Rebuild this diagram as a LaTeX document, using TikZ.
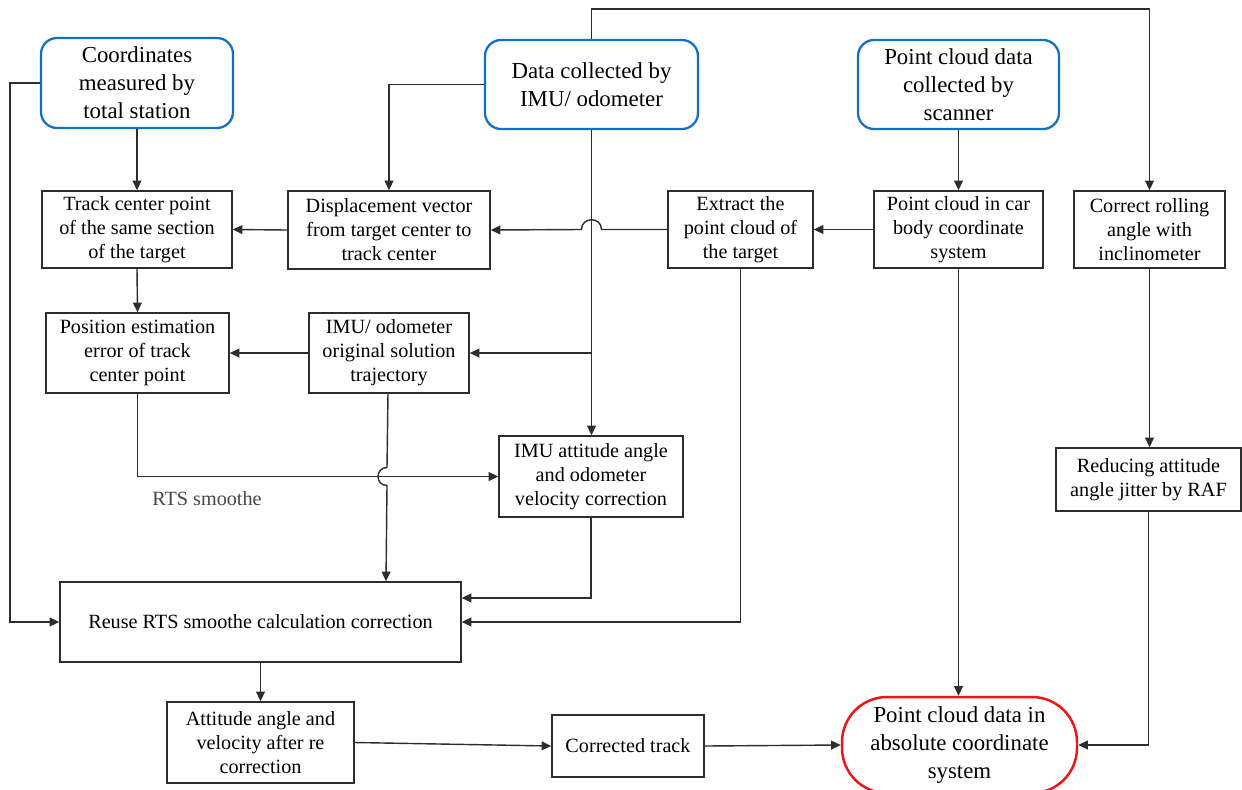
\documentclass[tikz,border=0pt]{standalone}
\usepackage{fontspec}
\setmainfont{Liberation Serif}
\newfontfamily\tnr{Liberation Serif}
\usetikzlibrary{arrows.meta,calc}
\definecolor{bblue}{RGB}{20,112,196}
\definecolor{rred}{RGB}{240,20,20}
\definecolor{lgray}{RGB}{45,45,45}
\definecolor{tgray}{RGB}{70,70,70}
\tikzset{
  big/.style={font=\tnr\fontsize{13}{16}\selectfont},
  small/.style={font=\tnr\fontsize{11.5}{13.7}\selectfont},
  srcbox/.style={draw=bblue, line width=1.3pt, rounded corners=0.32cm, align=center, inner sep=0pt, big},
  stepbox/.style={draw=lgray, line width=0.8pt, align=center, inner sep=0pt, small},
  endbox/.style={draw=rred, line width=1.4pt, rounded corners=0.9cm, align=center, inner sep=0pt, big},
  arr/.style={draw=lgray, line width=0.8pt, -{Triangle[length=5.5pt,width=5pt]}},
  lbl/.style={text=tgray, small}
}
\begin{document}
\begin{tikzpicture}[x=0.02cm,y=-0.02cm]
\useasboundingbox (0,0) rectangle (1242,789);
% sources
\node[srcbox, minimum width=3.84cm, minimum height=1.80cm] (coord) at (137,83) {Coordinates\\measured by\\total station};
\node[srcbox, minimum width=4.26cm, minimum height=1.78cm] (imu) at (591.5,84.5) {Data collected by\\IMU/ odometer};
\node[srcbox, minimum width=4.02cm, minimum height=1.78cm] (pcd) at (958.5,84.5) {Point cloud data\\collected by\\scanner};
% second row
\node[stepbox, minimum width=3.80cm, minimum height=1.54cm] (track) at (137,229.5) {Track center point\\of the same section\\of the target};
\node[stepbox, minimum width=4.04cm, minimum height=1.56cm] (disp) at (389,230) {Displacement vector\\from target center to\\track center};
\node[stepbox, minimum width=2.90cm, minimum height=1.54cm] (extract) at (740.5,229.5) {Extract the\\point cloud of\\the target};
\node[stepbox, minimum width=3.38cm, minimum height=1.54cm] (pccar) at (958.5,229.5) {Point cloud in car\\body coordinate\\system};
\node[stepbox, minimum width=3.02cm, minimum height=1.54cm] (roll) at (1149.5,229.5) {Correct rolling\\angle with\\inclinometer};
% third row
\node[stepbox, minimum width=3.66cm, minimum height=1.60cm] (pos) at (137.5,353) {Position estimation\\error of track\\center point};
\node[stepbox, minimum width=3.20cm, minimum height=1.60cm] (imuorig) at (389,353) {IMU/ odometer\\original solution\\trajectory};
\node[stepbox, minimum width=3.68cm, minimum height=1.62cm] (imuatt) at (591,476.5) {IMU attitude angle\\and odometer\\velocity correction};
\node[stepbox, minimum width=3.70cm, minimum height=1.26cm] (raf) at (1148.5,479.5) {Reducing attitude\\angle jitter by RAF};
\node[lbl] (rts) at (207,499) {RTS smoothe};
% bottom
\node[stepbox, minimum width=8.02cm, minimum height=1.60cm] (reuse) at (260.5,622) {Reuse RTS smoothe calculation correction};
\node[stepbox, minimum width=3.74cm, minimum height=1.62cm] (att) at (260.5,742.5) {Attitude angle and\\velocity after re\\correction};
\node[stepbox, minimum width=3.04cm, minimum height=1.24cm] (corr) at (628,746) {Corrected track};
\node[endbox, minimum width=4.70cm, minimum height=1.92cm] (abs) at (959.5,745) {Point cloud data in\\absolute coordinate\\system};
% connectors
\draw[arr] (coord.west) -- ++(-30,0) |- (reuse.west);
\draw[arr] (coord.south) -- (track.north);
\draw[arr] (imu.north) -- ++(0,-30) -| (roll.north);
\draw[arr] (imu.west) -| (disp.north);
\draw[arr] (imu.south) -- (imu.south |- imuatt.north);
\coordinate (br) at (imu.south |- imuorig.east);
\draw[arr] (br) -- (imuorig.east);
\coordinate (hop) at (imu.south |- extract.west);
\draw[arr] (extract.west) -- ($(hop)+(10,0)$) .. controls ($(hop)+(10,-13)$) and ($(hop)+(-10,-13)$) .. ($(hop)+(-10,0)$) -- (disp.east);
\draw[arr] (pccar.west) -- (extract.east);
\draw[arr] (pcd.south) -- (pccar.north);
\draw[arr] (disp.west) -- (track.east);
\draw[arr] (track.south) -- (pos.north);
\draw[arr] (imuorig.west) -- (pos.east);
\draw[arr] (pos.south) |- (imuatt.west);
\coordinate (hop2) at ([xshift=-0.04cm]imuorig.south |- imuatt.west);
\draw[arr] ([xshift=-0.02cm]imuorig.south) -- ($(hop2)+(0,-9)$) .. controls ($(hop2)+(-12,-9)$) and ($(hop2)+(-12,9)$) .. ($(hop2)+(0,9)$) -- ([xshift=-0.06cm]imuorig.south |- reuse.north);
\draw[arr] (imuatt.south) |- ($(reuse.east)+(0,-24)$);
\draw[arr] (extract.south) |- (reuse.east);
\draw[arr] (reuse.south) -- (att.north);
\draw[arr] (att.east) -- (corr.west);
\draw[arr] (corr.east) -- (abs.west);
\draw[arr] (pccar.south) -- (pccar.south |- abs.north);
\draw[arr] (roll.south) -- (roll.south |- raf.north);
\draw[arr] (raf.south) |- (abs.east);
\end{tikzpicture}
\end{document}
